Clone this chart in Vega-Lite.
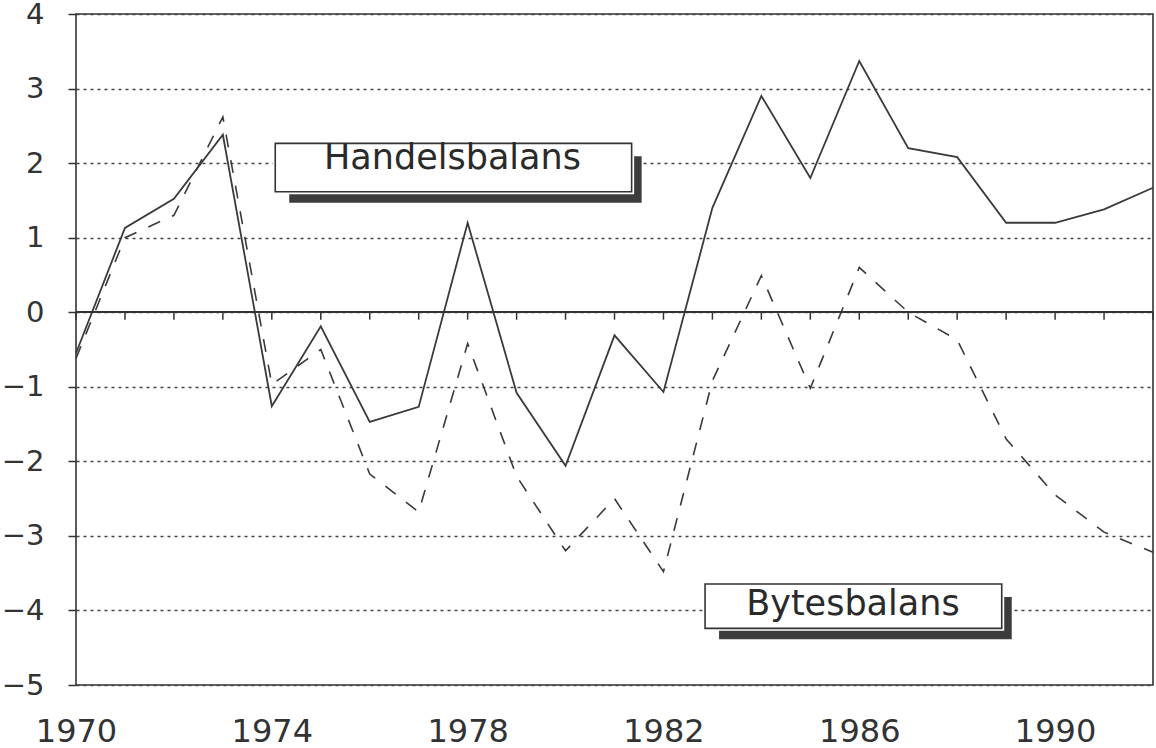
{
  "$schema": "https://vega.github.io/schema/vega-lite/v6.json",
  "width": 1077,
  "height": 671,
  "autosize": {"type": "none"},
  "padding": {"left": 76, "top": 14, "right": 3, "bottom": 63},
  "background": "white",
  "config": {
    "view": {"stroke": "#333", "strokeWidth": 1.6},
    "axis": {"labelFont": "DejaVu Sans", "labelColor": "#333", "labelFontSize": 29, "titleFont": "DejaVu Sans"}
  },
  "datasets": {
    "series": [
      {"year": 1970, "Handelsbalans": -0.55, "Bytesbalans": -0.62},
      {"year": 1971, "Handelsbalans": 1.13, "Bytesbalans": 1.0},
      {"year": 1972, "Handelsbalans": 1.52, "Bytesbalans": 1.3},
      {"year": 1973, "Handelsbalans": 2.38, "Bytesbalans": 2.62},
      {"year": 1974, "Handelsbalans": -1.26, "Bytesbalans": -0.97},
      {"year": 1975, "Handelsbalans": -0.19, "Bytesbalans": -0.5},
      {"year": 1976, "Handelsbalans": -1.47, "Bytesbalans": -2.17},
      {"year": 1977, "Handelsbalans": -1.27, "Bytesbalans": -2.68},
      {"year": 1978, "Handelsbalans": 1.2, "Bytesbalans": -0.42},
      {"year": 1979, "Handelsbalans": -1.08, "Bytesbalans": -2.2},
      {"year": 1980, "Handelsbalans": -2.06, "Bytesbalans": -3.2},
      {"year": 1981, "Handelsbalans": -0.31, "Bytesbalans": -2.5},
      {"year": 1982, "Handelsbalans": -1.07, "Bytesbalans": -3.48},
      {"year": 1983, "Handelsbalans": 1.4, "Bytesbalans": -0.92},
      {"year": 1984, "Handelsbalans": 2.9, "Bytesbalans": 0.49},
      {"year": 1985, "Handelsbalans": 1.8, "Bytesbalans": -1.02},
      {"year": 1986, "Handelsbalans": 3.37, "Bytesbalans": 0.6},
      {"year": 1987, "Handelsbalans": 2.2, "Bytesbalans": 0.0},
      {"year": 1988, "Handelsbalans": 2.08, "Bytesbalans": -0.37},
      {"year": 1989, "Handelsbalans": 1.2, "Bytesbalans": -1.7},
      {"year": 1990, "Handelsbalans": 1.2, "Bytesbalans": -2.45},
      {"year": 1991, "Handelsbalans": 1.38, "Bytesbalans": -2.95},
      {"year": 1992, "Handelsbalans": 1.67, "Bytesbalans": -3.22}
    ],
    "labels": [
      {"label": "Handelsbalans", "x0": 1974.07, "x1": 1981.35, "y0": 2.265, "y1": 1.616, "tx": 1977.69, "ty": 1.917},
      {"label": "Bytesbalans", "x0": 1982.85, "x1": 1988.91, "y0": -3.645, "y1": -4.24, "tx": 1985.87, "ty": -4.061}
    ]
  },
  "layer": [
    {
      "data": {"name": "series"},
      "mark": {"type": "line", "color": "#3a3a3a", "strokeWidth": 1.8},
      "encoding": {
        "x": {
          "field": "year", "type": "quantitative",
          "scale": {"domain": [1970, 1992], "nice": false, "zero": false},
          "axis": {
            "title": null, "values": [1970, 1974, 1978, 1982, 1986, 1990], "format": "d",
            "ticks": false, "domain": false, "grid": false, "labelPadding": 31, "labelFontSize": 32,
            "labelOverlap": false, "labelFlush": false
          }
        },
        "y": {
          "field": "Handelsbalans", "type": "quantitative",
          "scale": {"domain": [-5, 4], "nice": false, "zero": false},
          "axis": {
            "title": null, "values": [-5, -4, -3, -2, -1, 0, 1, 2, 3, 4], "format": "d",
            "domain": false, "ticks": true, "tickSize": 8, "tickColor": "#333", "tickWidth": 1.5,
            "labelPadding": 24, "grid": true, "gridDash": [3, 4], "gridColor": "#444",
            "gridWidth": 1.3, "gridOpacity": 1, "labelOverlap": false, "labelFlush": false
          }
        }
      }
    },
    {
      "data": {"name": "series"},
      "mark": {"type": "line", "color": "#3a3a3a", "strokeWidth": 1.6, "strokeDash": [13, 13]},
      "encoding": {
        "x": {"field": "year", "type": "quantitative"},
        "y": {"field": "Bytesbalans", "type": "quantitative"}
      }
    },
    {
      "data": {"name": "series"},
      "mark": {"type": "rule", "color": "#333", "strokeWidth": 1.6},
      "encoding": {
        "y": {"datum": 0}
      }
    },
    {
      "data": {"name": "series"},
      "mark": {"type": "rule", "color": "#333", "strokeWidth": 1.5},
      "encoding": {
        "x": {"field": "year", "type": "quantitative"},
        "y": {"datum": 0},
        "y2": {"datum": -0.1}
      }
    },
    {
      "data": {"name": "labels"},
      "mark": {"type": "rect", "fill": "#3c3c3c", "xOffset": 14, "x2Offset": 10, "yOffset": 13, "y2Offset": 11},
      "encoding": {
        "x": {"field": "x0", "type": "quantitative"},
        "x2": {"field": "x1"},
        "y": {"field": "y0", "type": "quantitative"},
        "y2": {"field": "y1"}
      }
    },
    {
      "data": {"name": "labels"},
      "mark": {"type": "rect", "fill": "white", "stroke": "white", "strokeWidth": 5},
      "encoding": {
        "x": {"field": "x0", "type": "quantitative"},
        "x2": {"field": "x1"},
        "y": {"field": "y0", "type": "quantitative"},
        "y2": {"field": "y1"}
      }
    },
    {
      "data": {"name": "labels"},
      "mark": {"type": "rect", "fill": "white", "stroke": "#333", "strokeWidth": 1.6},
      "encoding": {
        "x": {"field": "x0", "type": "quantitative"},
        "x2": {"field": "x1"},
        "y": {"field": "y0", "type": "quantitative"},
        "y2": {"field": "y1"}
      }
    },
    {
      "data": {"name": "labels"},
      "mark": {"type": "text", "font": "DejaVu Sans", "fontSize": 35, "color": "#2a2a2a", "align": "center", "baseline": "alphabetic"},
      "encoding": {
        "x": {"field": "tx", "type": "quantitative"},
        "y": {"field": "ty", "type": "quantitative"},
        "text": {"field": "label"}
      }
    }
  ]
}
